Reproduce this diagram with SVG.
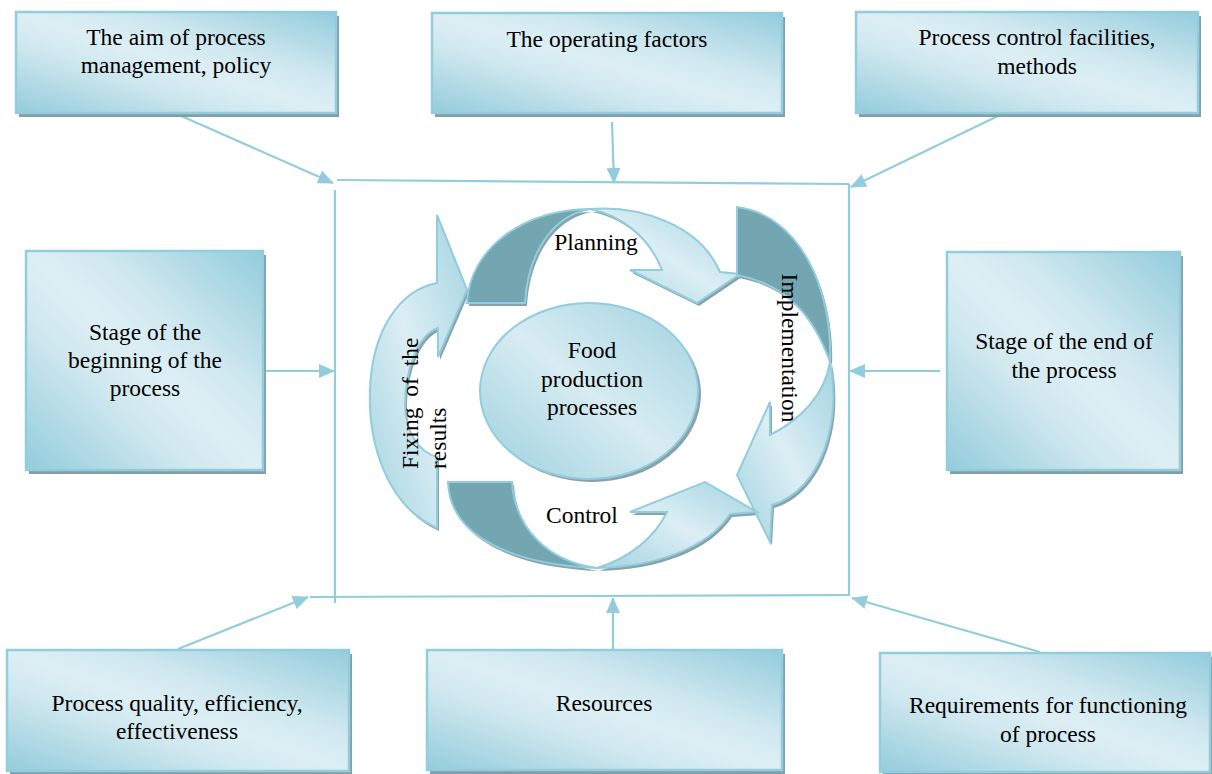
<svg xmlns="http://www.w3.org/2000/svg" xmlns:xlink="http://www.w3.org/1999/xlink" width="1212" height="774" viewBox="0 0 1212 774" font-family="Liberation Serif, Times New Roman, serif">
<style>
.bx{fill:url(#boxGrad);stroke:#93cddd;stroke-width:2.5}
.sh{fill:#819fa7}
.t{font-family:'Liberation Serif','Times New Roman',serif;font-size:23.5px;fill:#000;text-anchor:middle}
.ln{stroke:#93cddd;stroke-width:2.2;fill:none}
.ar{stroke:#93cddd;stroke-width:2.2;fill:none;marker-end:url(#ah)}
.lt{fill:url(#arGrad);stroke:#93cddd;stroke-width:2}
.dk{fill:#74a6b1;stroke:#93cddd;stroke-width:2}
.ash{fill:#86a3aa}
</style>
<defs>
<linearGradient id="boxGrad" x1="0" y1="1" x2="1" y2="0">
<stop offset="0" stop-color="#93ccdc"/>
<stop offset="0.35" stop-color="#d0e8ef"/>
<stop offset="0.5" stop-color="#ddeff5"/>
<stop offset="0.65" stop-color="#d0e8ef"/>
<stop offset="1" stop-color="#93ccdc"/>
</linearGradient>
<linearGradient id="arGrad" x1="0" y1="1" x2="1" y2="0">
<stop offset="0" stop-color="#a3d4e1"/>
<stop offset="0.5" stop-color="#dceef4"/>
<stop offset="1" stop-color="#a3d4e1"/>
</linearGradient>
<linearGradient id="elGrad" x1="0" y1="1" x2="1" y2="0">
<stop offset="0" stop-color="#9bd0de"/>
<stop offset="0.5" stop-color="#d8ecf2"/>
<stop offset="1" stop-color="#a0d2e0"/>
</linearGradient>
<marker id="ah" markerWidth="16" markerHeight="14" refX="15" refY="7" orient="auto" markerUnits="userSpaceOnUse">
<path d="M0,0 L16,7 L0,14 Z" fill="#93cddd"/>
</marker>
<path id="pDark" d="M467,303 C470,250 520,210 590,209 C555,215 528,250 525,303 Z"/>
<path id="pLight" d="M590,209 C640,205 700,225 720,272 L740,274 L697,303 L630,270 L662,270 C648,235 620,215 590,209 Z"/>
<path id="iDark" d="M737,207 C800,215 833,290 830,362 C815,320 790,285 737,275 Z"/>
<path id="iLight" d="M830,362 C842,420 822,490 772,505 L770,542 L737,475 L770,402 L770,435 C800,420 825,395 830,362 Z"/>
<path id="cDark" d="M448,482 L512,482 C515,530 550,562 597,568 C520,565 450,540 448,482 Z"/>
<path id="cLight" d="M597,568 C655,567 708,548 730,514 L757,512 L705,482 L630,512 L667,512 C655,537 630,558 597,568 Z"/>
<path id="fLight" d="M437,528 C385,505 368,440 370,390 C372,330 400,290 437,283 L437,215 L467,290 L438,357 L438,328 C418,335 405,370 405,405 C405,430 418,452 437,457 Z"/>
</defs>
<rect width="1212" height="774" fill="#fff"/>

<g id="connectors">
<path class="ln" d="M337,180 L849,184"/>
<path class="ln" d="M335,190 L335,603"/>
<path class="ln" d="M849,184 L849,596"/>
<path class="ln" d="M310,597 L849,595"/>
<path class="ar" d="M179,115 L333,183"/>
<path class="ar" d="M612,122 L614,183"/>
<path class="ar" d="M1000,115 L851,187"/>
<path class="ar" d="M265,371 L334,371"/>
<path class="ar" d="M940,371 L850,371"/>
<path class="ar" d="M178,649 L308,597"/>
<path class="ar" d="M613,650 L613,598"/>
<path class="ar" d="M1040,652 L852,598"/>
</g>

<g id="n1">
<rect class="sh" x="19" y="16" width="320" height="101"/>
<rect class="bx" x="16" y="12" width="320" height="101"/>
<text class="t" x="176" y="45">The aim of process</text>
<text class="t" x="176" y="73">management, policy</text>
</g>
<g id="n2">
<rect class="sh" x="435" y="17" width="350" height="100"/>
<rect class="bx" x="432" y="13" width="350" height="100"/>
<text class="t" x="607" y="47">The operating factors</text>
</g>
<g id="n3">
<rect class="sh" x="859" y="16" width="342" height="101"/>
<rect class="bx" x="856" y="12" width="342" height="101"/>
<text class="t" x="1037" y="45">Process control facilities,</text>
<text class="t" x="1037" y="74">methods</text>
</g>
<g id="n4">
<rect class="sh" x="29" y="255" width="237" height="219"/>
<rect class="bx" x="26" y="251" width="237" height="219"/>
<text class="t" x="145" y="340">Stage of the</text>
<text class="t" x="145" y="368">beginning of the</text>
<text class="t" x="145" y="396">process</text>
</g>
<g id="n5">
<rect class="sh" x="950" y="256" width="233" height="218"/>
<rect class="bx" x="947" y="252" width="233" height="218"/>
<text class="t" x="1064" y="349">Stage of the end of</text>
<text class="t" x="1064" y="378">the process</text>
</g>
<g id="n6">
<rect class="sh" x="10" y="654" width="342" height="121"/>
<rect class="bx" x="7" y="650" width="342" height="121"/>
<text class="t" x="177" y="711">Process quality, efficiency,</text>
<text class="t" x="177" y="739">effectiveness</text>
</g>
<g id="n7">
<rect class="sh" x="430" y="654" width="355" height="120"/>
<rect class="bx" x="427" y="650" width="355" height="120"/>
<text class="t" x="604" y="711">Resources</text>
</g>
<g id="n8">
<rect class="sh" x="883" y="657" width="330" height="119"/>
<rect class="bx" x="880" y="653" width="330" height="119"/>
<text class="t" x="1048" y="713">Requirements for functioning</text>
<text class="t" x="1048" y="742">of process</text>
</g>

<g id="cycle">
<g transform="translate(2,3)" class="ash">
<use xlink:href="#pDark"/><use xlink:href="#pLight"/>
<use xlink:href="#iDark"/><use xlink:href="#iLight"/>
<use xlink:href="#cDark"/><use xlink:href="#cLight"/>
<use xlink:href="#fLight"/>
</g>
<g id="fixing">
<use xlink:href="#fLight" class="lt"/>
<text class="t" style="text-anchor:start;word-spacing:5px" transform="translate(418,469) rotate(-90)">Fixing of the</text>
<text class="t" style="text-anchor:start" transform="translate(446,469) rotate(-90)">results</text>
</g>
<g id="planning">
<use xlink:href="#pDark" class="dk"/>
<use xlink:href="#pLight" class="lt"/>
<text class="t" x="596" y="250">Planning</text>
</g>
<g id="implementation">
<use xlink:href="#iDark" class="dk"/>
<use xlink:href="#iLight" class="lt"/>
<text class="t" transform="translate(782,348) rotate(90)">Implementation</text>
</g>
<g id="control">
<use xlink:href="#cDark" class="dk"/>
<use xlink:href="#cLight" class="lt"/>
<text class="t" x="582" y="523">Control</text>
</g>
<g id="center">
<ellipse cx="592" cy="394" rx="109" ry="88" fill="#86a3aa"/>
<ellipse cx="589" cy="391" rx="109" ry="88" fill="url(#elGrad)" stroke="#93cddd" stroke-width="2"/>
<text class="t" x="592" y="358">Food</text>
<text class="t" x="592" y="387">production</text>
<text class="t" x="592" y="415">processes</text>
</g>
</g>
</svg>
